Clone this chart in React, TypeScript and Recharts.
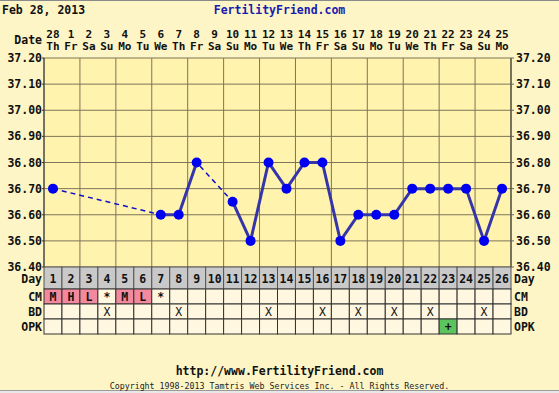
import React from 'react';
import { ComposedChart, Line, XAxis, YAxis, CartesianGrid } from 'recharts';

const days = [1, 2, 3, 4, 5, 6, 7, 8, 9, 10, 11, 12, 13, 14, 15, 16, 17, 18, 19, 20, 21, 22, 23, 24, 25, 26];
const dates = ['28', '1', '2', '3', '4', '5', '6', '7', '8', '9', '10', '11', '12', '13', '14', '15', '16', '17', '18', '19', '20', '21', '22', '23', '24', '25'];
const weekdays = ['Th', 'Fr', 'Sa', 'Su', 'Mo', 'Tu', 'We', 'Th', 'Fr', 'Sa', 'Su', 'Mo', 'Tu', 'We', 'Th', 'Fr', 'Sa', 'Su', 'Mo', 'Tu', 'We', 'Th', 'Fr', 'Sa', 'Su', 'Mo'];
const temps: (number | null)[] = [36.7, null, null, null, null, null, 36.6, 36.6, 36.8, null, 36.65, 36.5, 36.8, 36.7, 36.8, 36.8, 36.5, 36.6, 36.6, 36.6, 36.7, 36.7, 36.7, 36.7, 36.5, 36.7];
const cm = ['M', 'H', 'L', '*', 'M', 'L', '*', '', '', '', '', '', '', '', '', '', '', '', '', '', '', '', '', '', '', ''];
const bd = ['', '', '', 'X', '', '', '', 'X', '', '', '', '', 'X', '', '', 'X', '', 'X', '', 'X', '', 'X', '', '', 'X', ''];
const opk = ['', '', '', '', '', '', '', '', '', '', '', '', '', '', '', '', '', '', '', '', '', '', '+', '', '', ''];
const yTicks = [36.4, 36.5, 36.6, 36.7, 36.8, 36.9, 37.0, 37.1, 37.2];
const yGridTicks = [36.4, 36.45, 36.5, 36.55, 36.6, 36.65, 36.7, 36.75, 36.8, 36.85, 36.9, 36.95, 37.0, 37.05, 37.1, 37.15, 37.2];
const xGridTicks = [0.5, 1.5, 2.5, 3.5, 4.5, 5.5, 6.5, 7.5, 8.5, 9.5, 10.5, 11.5, 12.5, 13.5, 14.5, 15.5, 16.5, 17.5, 18.5, 19.5, 20.5, 21.5, 22.5, 23.5, 24.5, 25.5, 26.5];
const rowLabels = ['Day', 'CM', 'BD', 'OPK'];

const data = days.map((d, i) => ({ day: d, temp: temps[i] }));

const W = 559;
const H = 393;
const LEFT_W = 44;
const RIGHT_W = 48;
const COLW = (W - LEFT_W - RIGHT_W) / days.length;
const FONT = '"DejaVu Sans Mono", monospace';
const BG = '#FDF5C6';
const PLOT_BG = '#FFF3AE';
const CELL_BG = '#FFF7E0';
const DAY_BG = '#C9C9C9';
const PINK = '#F2899C';
const GREEN = '#5CC45C';
const GRID = '#7D7559';
const ROWS = [22, 15, 15, 15];

const TopTick = (props: any) => {
  const { x, y, payload } = props;
  const i = payload.value - 1;
  return (
    <g fontFamily={FONT} fontWeight="bold" fontSize={11} fill="#111">
      <text x={x} y={y - 20} textAnchor="middle">{dates[i]}</text>
      <text x={x} y={y - 8} textAnchor="middle">{weekdays[i]}</text>
      {i === 0 && (
        <text x={x - COLW / 2 - 2} y={y - 14} textAnchor="end" fontSize={11.5}>Date</text>
      )}
    </g>
  );
};

const TableTick = (props: any) => {
  const { x, y, payload } = props;
  const i = payload.value - 1;
  const left = x - COLW / 2;
  const tops = [y, y + ROWS[0], y + ROWS[0] + ROWS[1], y + ROWS[0] + ROWS[1] + ROWS[2]];
  const cmFill = cm[i] === 'M' || cm[i] === 'H' || cm[i] === 'L' ? PINK : CELL_BG;
  const opkFill = opk[i] ? GREEN : CELL_BG;
  return (
    <g fontFamily={FONT} fontWeight="bold" fontSize={11.5}>
      <rect x={left} y={tops[0]} width={COLW} height={ROWS[0]} fill={DAY_BG} stroke="#555" strokeWidth={1} />
      <rect x={left} y={tops[1]} width={COLW} height={ROWS[1]} fill={cmFill} stroke="#333" strokeWidth={1} />
      <rect x={left} y={tops[2]} width={COLW} height={ROWS[2]} fill={CELL_BG} stroke="#333" strokeWidth={1} />
      <rect x={left} y={tops[3]} width={COLW} height={ROWS[3]} fill={opkFill} stroke="#333" strokeWidth={1} />
      <text x={x} y={tops[0] + 16} textAnchor="middle" fill="#111">{days[i]}</text>
      <text x={x} y={tops[1] + 12} textAnchor="middle" fill="#111">{cm[i]}</text>
      <text x={x} y={tops[2] + 12} textAnchor="middle" fill="#111" fontWeight="normal">{bd[i]}</text>
      <text x={x} y={tops[3] + 12} textAnchor="middle" fill="#111">{opk[i]}</text>
      {i === 0 &&
        rowLabels.map((l, k) => (
          <text key={l} x={left - 2} y={tops[k] + (k === 0 ? 16 : 12)} textAnchor="end" fill="#111">{l}</text>
        ))}
      {i === days.length - 1 &&
        rowLabels.map((l, k) => (
          <text key={l} x={left + COLW + 3} y={tops[k] + (k === 0 ? 16 : 12)} textAnchor="start" fill="#111">{l}</text>
        ))}
    </g>
  );
};

export default function App() {
  return (
    <div style={{ position: 'absolute', left: 0, top: 0, width: W, height: H, background: BG, overflow: 'hidden' }}>
      <div style={{ position: 'absolute', left: 0, top: 0, width: W, height: 1, background: '#8a8a8a' }} />
      <div style={{ position: 'absolute', left: 0, top: 390, width: W, height: 1, background: '#9a9a9a' }} />
      <div style={{ position: 'absolute', left: 0, top: 391, width: W, height: 2, background: '#e8e8e8' }} />
      <div style={{ position: 'absolute', left: 2, top: 3, fontFamily: FONT, fontWeight: 'bold', fontSize: 11.5, color: '#111', whiteSpace: 'pre' }}>Feb 28, 2013</div>
      <div style={{ position: 'absolute', left: 0, width: W, top: 3, textAlign: 'center', fontFamily: FONT, fontWeight: 'bold', fontSize: 11.5, color: '#1a1ab0', whiteSpace: 'pre' }}>FertilityFriend.com</div>
      <div style={{ position: 'absolute', left: 0, width: W, top: 364, textAlign: 'center', fontFamily: FONT, fontWeight: 'bold', fontSize: 11.5, color: '#111', whiteSpace: 'pre' }}>http://www.FertilityFriend.com</div>
      <div style={{ position: 'absolute', left: 0, width: W, top: 381, textAlign: 'center', fontFamily: FONT, fontSize: 8.3, color: '#222', whiteSpace: 'pre' }}>Copyright 1998-2013 Tamtris Web Services Inc. - All Rights Reserved.</div>
      <div style={{ position: 'absolute', left: 0, top: 0 }}>
        <ComposedChart width={W} height={H} data={data} margin={{ top: 0, right: 0, bottom: 59, left: 0 }}>
          <CartesianGrid xAxisId="gx" yAxisId="gy" stroke={GRID} strokeWidth={1} fill={PLOT_BG} fillOpacity={1} />
          <XAxis
            xAxisId="top"
            orientation="top"
            dataKey="day"
            type="number"
            domain={[0.5, 26.5]}
            ticks={days}
            height={58}
            tickSize={0}
            tickMargin={0}
            axisLine={false}
            tickLine={false}
            tick={<TopTick />}
            interval={0}
            allowDataOverflow
          />
          <XAxis
            xAxisId="main"
            orientation="bottom"
            dataKey="day"
            type="number"
            domain={[0.5, 26.5]}
            ticks={days}
            height={67}
            tickSize={0}
            tickMargin={0}
            axisLine={false}
            tickLine={false}
            tick={<TableTick />}
            interval={0}
            allowDataOverflow
          />
          <YAxis
            yAxisId="left"
            orientation="left"
            type="number"
            domain={[36.4, 37.2]}
            ticks={yTicks}
            width={LEFT_W}
            interval={0}
            tickSize={2}
            tickMargin={0}
            stroke="#333"
            axisLine={{ stroke: '#333' }}
            tickFormatter={(v: number) => v.toFixed(2)}
            tick={{ fill: '#111', fontFamily: FONT, fontWeight: 'bold', fontSize: 11.5 }}
            allowDataOverflow
          />
          <YAxis
            yAxisId="right"
            orientation="right"
            type="number"
            domain={[36.4, 37.2]}
            ticks={yTicks}
            width={RIGHT_W}
            interval={0}
            tickSize={3}
            tickMargin={2}
            axisLine={{ stroke: '#333' }}
            tickFormatter={(v: number) => v.toFixed(2)}
            tick={{ fill: '#111', fontFamily: FONT, fontWeight: 'bold', fontSize: 11.5 }}
            allowDataOverflow
          />
          <XAxis xAxisId="gx" dataKey="day" type="number" domain={[0.5, 26.5]} ticks={xGridTicks} hide height={0} allowDataOverflow />
          <YAxis yAxisId="gy" type="number" domain={[36.4, 37.2]} ticks={yGridTicks} hide width={0} allowDataOverflow />
          <Line
            xAxisId="main"
            yAxisId="left"
            dataKey="temp"
            type="linear"
            connectNulls
            stroke="#1010C8"
            strokeWidth={1.5}
            strokeDasharray="5 4"
            dot={false}
            activeDot={false}
            isAnimationActive={false}
          />
          <Line
            xAxisId="main"
            yAxisId="left"
            dataKey="temp"
            type="linear"
            stroke="#3535AA"
            strokeWidth={3}
            dot={{ r: 5, fill: '#0000F0', stroke: '#0000F0', strokeWidth: 0 }}
            activeDot={false}
            isAnimationActive={false}
          />
        </ComposedChart>
      </div>
    </div>
  );
}
